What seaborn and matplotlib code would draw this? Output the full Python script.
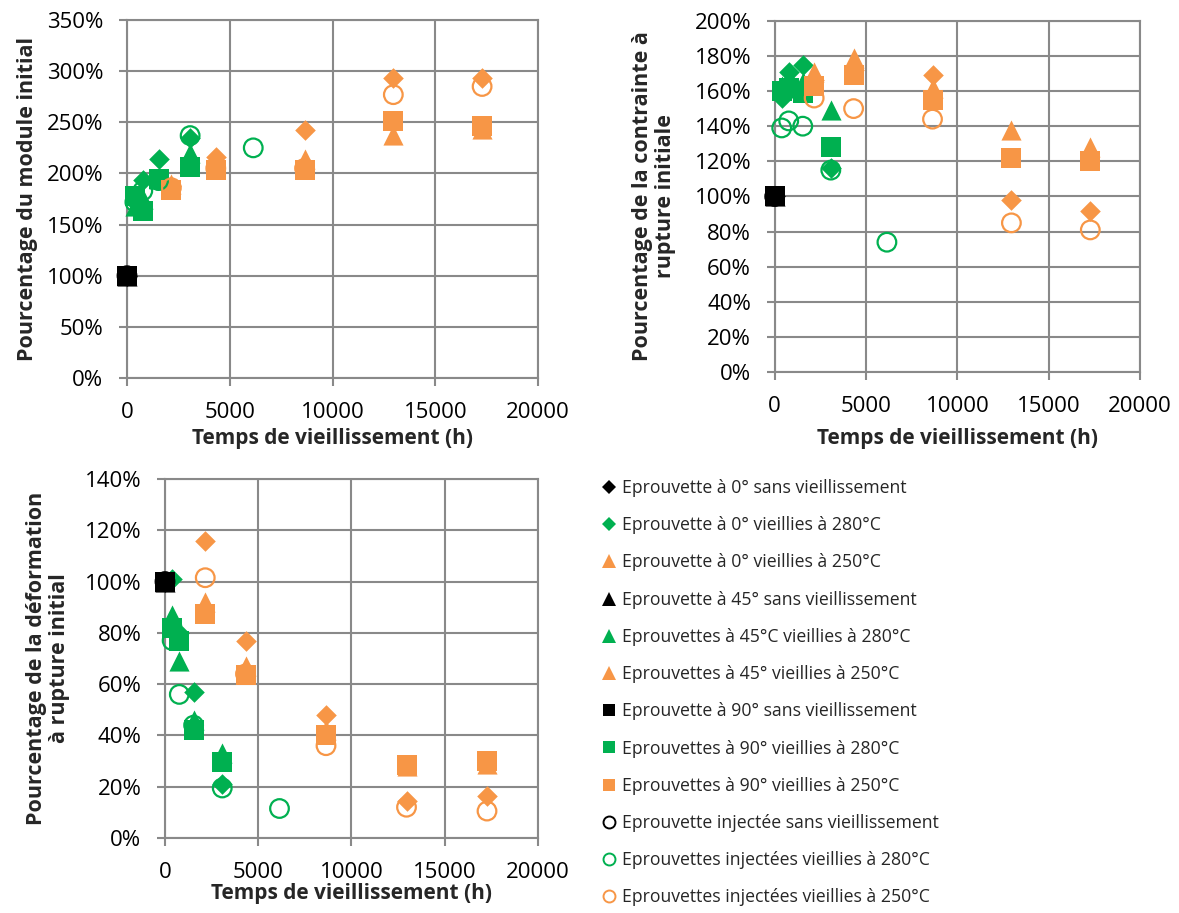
import numpy as np
import pandas as pd
import matplotlib
matplotlib.use("Agg")
import matplotlib.pyplot as plt
from matplotlib.lines import Line2D
from matplotlib.ticker import PercentFormatter, MultipleLocator
import seaborn as sns

sns.set_style("white")
plt.rcParams['font.family'] = ['Open Sans', 'DejaVu Sans']

# ---------------- data ----------------
t_unaged = [0]
t_280 = [384, 768, 1536, 3072]
t_280_inj = [384, 768, 1536, 3072, 6144]
t_250 = [2160, 4320, 8640, 12960, 17280]

# Module (fraction of initial)
mod_0_280 = [1.72, 1.94, 2.14, 2.35]
mod_0_250 = [1.88, 2.16, 2.42, 2.93, 2.93]
mod_45_280 = [1.68, 1.75, 1.95, 2.20]
mod_45_250 = [1.90, 2.10, 2.14, 2.38, 2.43]
mod_90_280 = [1.78, 1.63, 1.95, 2.06]
mod_90_250 = [1.84, 2.03, 2.03, 2.51, 2.46]
mod_inj_280 = [1.72, 1.83, 1.93, 2.37, 2.25]
mod_inj_250 = [1.86, 2.05, 2.05, 2.77, 2.85]

# Contrainte a rupture
str_0_280 = [1.56, 1.71, 1.75, 1.16]
str_0_250 = [1.66, 1.72, 1.69, 0.98, 0.92]
str_45_280 = [1.63, 1.68, 1.65, 1.49]
str_45_250 = [1.71, 1.79, 1.62, 1.38, 1.28]
str_90_280 = [1.60, 1.62, 1.59, 1.28]
str_90_250 = [1.63, 1.69, 1.55, 1.22, 1.20]
str_inj_280 = [1.39, 1.43, 1.40, 1.15, 0.74]
str_inj_250 = [1.56, 1.50, 1.44, 0.85, 0.81]

# Deformation a rupture
def_0_280 = [1.01, 0.80, 0.57, 0.21]
def_0_250 = [1.16, 0.77, 0.48, 0.145, 0.165]
def_45_280 = [0.87, 0.69, 0.46, 0.33]
def_45_250 = [0.92, 0.67, 0.42, 0.28, 0.29]
def_90_280 = [0.82, 0.77, 0.42, 0.295]
def_90_250 = [0.875, 0.635, 0.40, 0.285, 0.30]
def_inj_280 = [0.77, 0.56, 0.44, 0.195, 0.115]
def_inj_250 = [1.015, 0.64, 0.36, 0.12, 0.105]

unaged_value = [1.0]

legend_labels = [
    "Eprouvette à 0° sans vieillissement",
    "Eprouvette à 0° vieillies à 280°C",
    "Eprouvette à 0° vieillies à 250°C",
    "Eprouvette à 45° sans vieillissement",
    "Eprouvettes à 45°C vieillies à 280°C",
    "Eprouvettes à 45° vieillies à 250°C",
    "Eprouvette à 90° sans vieillissement",
    "Eprouvettes à 90° vieillies à 280°C",
    "Eprouvettes à 90° vieillies à 250°C",
    "Eprouvette injectée sans vieillissement",
    "Eprouvettes injectées vieillies à 280°C",
    "Eprouvettes injectées vieillies à 250°C",
]

x_label = "Temps de vieillissement (h)"
y_labels = ["Pourcentage du module initial",
            "Pourcentage de la contrainte à\nrupture initiale",
            "Pourcentage de la déformation\nà rupture initial"]

# ---------------- style ----------------
BLACK = "#000000"
GREEN = "#00B050"
ORANGE = "#F79646"
GRID = "#898989"

S_SQ = 210
S_TRI = 210
S_DIA = 110
S_CIR = 180

fig = plt.figure(figsize=(11.79, 9.13), dpi=100)

W, H = 1179.0, 913.0
def ax_rect(x0, x1, ytop, ybot):
    return [x0 / W, 1 - ybot / H, (x1 - x0) / W, (ybot - ytop) / H]

ax1 = fig.add_axes(ax_rect(127, 538, 20, 378))
ax2 = fig.add_axes(ax_rect(774.7, 1140, 20.7, 372.3))
ax3 = fig.add_axes(ax_rect(165, 537.7, 479, 838))


def draw_panel(ax, vals):
    (v0_280, v0_250, v45_280, v45_250, v90_280, v90_250, vi_280, vi_250) = vals
    specs = [
        (t_unaged, unaged_value, "D", BLACK, S_DIA, True),
        (t_280, v0_280, "D", GREEN, S_DIA, True),
        (t_250, v0_250, "D", ORANGE, S_DIA, True),
        (t_unaged, unaged_value, "^", BLACK, S_TRI, True),
        (t_280, v45_280, "^", GREEN, S_TRI, True),
        (t_250, v45_250, "^", ORANGE, S_TRI, True),
        (t_unaged, unaged_value, "s", BLACK, S_SQ, True),
        (t_280, v90_280, "s", GREEN, S_SQ, True),
        (t_250, v90_250, "s", ORANGE, S_SQ, True),
        (t_unaged, unaged_value, "o", BLACK, S_CIR, False),
        (t_280_inj, vi_280, "o", GREEN, S_CIR, False),
        (t_250, vi_250, "o", ORANGE, S_CIR, False),
    ]
    for i, (tx, vy, mk, col, s, filled) in enumerate(specs):
        df = pd.DataFrame({"t": tx, "v": vy})
        if filled:
            sns.scatterplot(data=df, x="t", y="v", marker=mk, s=s, color=col,
                            linewidth=0, ax=ax, legend=False,
                            zorder=3 + i * 0.01, clip_on=False)
        else:
            sns.scatterplot(data=df, x="t", y="v", marker=mk, s=s,
                            facecolors="none", edgecolor=col, linewidth=1.6,
                            ax=ax, legend=False, zorder=3 + i * 0.01,
                            clip_on=False)


draw_panel(ax1, [mod_0_280, mod_0_250, mod_45_280, mod_45_250,
                 mod_90_280, mod_90_250, mod_inj_280, mod_inj_250])
draw_panel(ax2, [str_0_280, str_0_250, str_45_280, str_45_250,
                 str_90_280, str_90_250, str_inj_280, str_inj_250])
draw_panel(ax3, [def_0_280, def_0_250, def_45_280, def_45_250,
                 def_90_280, def_90_250, def_inj_280, def_inj_250])

limits = [(3.5, 0.5), (2.0, 0.2), (1.4, 0.2)]
ylab_x = [-0.2165, -0.27, -0.255]
xlab_y = [-0.14, -0.158, -0.125]
for ax, (ymax, step), yl, lx, ly in zip([ax1, ax2, ax3], limits, y_labels, ylab_x, xlab_y):
    ax.set_xlim(0, 20000)
    ax.set_ylim(0, ymax)
    ax.xaxis.set_major_locator(MultipleLocator(5000))
    ax.yaxis.set_major_locator(MultipleLocator(step))
    ax.yaxis.set_major_formatter(PercentFormatter(xmax=1, decimals=0))
    ax.grid(True, color=GRID, linewidth=1.5)
    ax.set_axisbelow(True)
    for sp in ax.spines.values():
        sp.set_color(GRID)
        sp.set_linewidth(1.5)
    ax.tick_params(axis="both", which="major", direction="out", length=6,
                   width=1.5, color=GRID, labelsize=16, pad=11,
                   left=True, bottom=True, labelcolor="black")
    ax.set_xlabel(x_label, fontsize=15, fontweight="bold")
    ax.set_ylabel(yl, fontsize=15.5, fontweight="bold", linespacing=1.15)
    ax.yaxis.set_label_coords(lx, 0.5)
    ax.xaxis.set_label_coords(0.5, ly)

# ---------------- legend ----------------
leg_specs = [
    ("D", BLACK, True), ("D", GREEN, True), ("^", ORANGE, True),
    ("^", BLACK, True), ("^", GREEN, True), ("^", ORANGE, True),
    ("s", BLACK, True), ("s", GREEN, True), ("s", ORANGE, True),
    ("o", BLACK, False), ("o", GREEN, False), ("o", ORANGE, False),
]
handles = []
for mk, col, filled in leg_specs:
    ms = {"D": 6.8, "^": 9.4, "s": 9.2, "o": 8.6}[mk]
    handles.append(Line2D([], [], linestyle="none", marker=mk, markersize=ms,
                          markerfacecolor=col if filled else "none",
                          markeredgecolor=col, markeredgewidth=0 if filled else 1.4))

fig.legend(handles, legend_labels, loc="upper left",
           bbox_to_anchor=(600 / W, 1 - 479 / H), frameon=False,
           fontsize=12.7, labelspacing=1.09, handlelength=1.0, handletextpad=0.25,
           borderpad=0, borderaxespad=0)

fig.savefig("out.png", dpi=100)
